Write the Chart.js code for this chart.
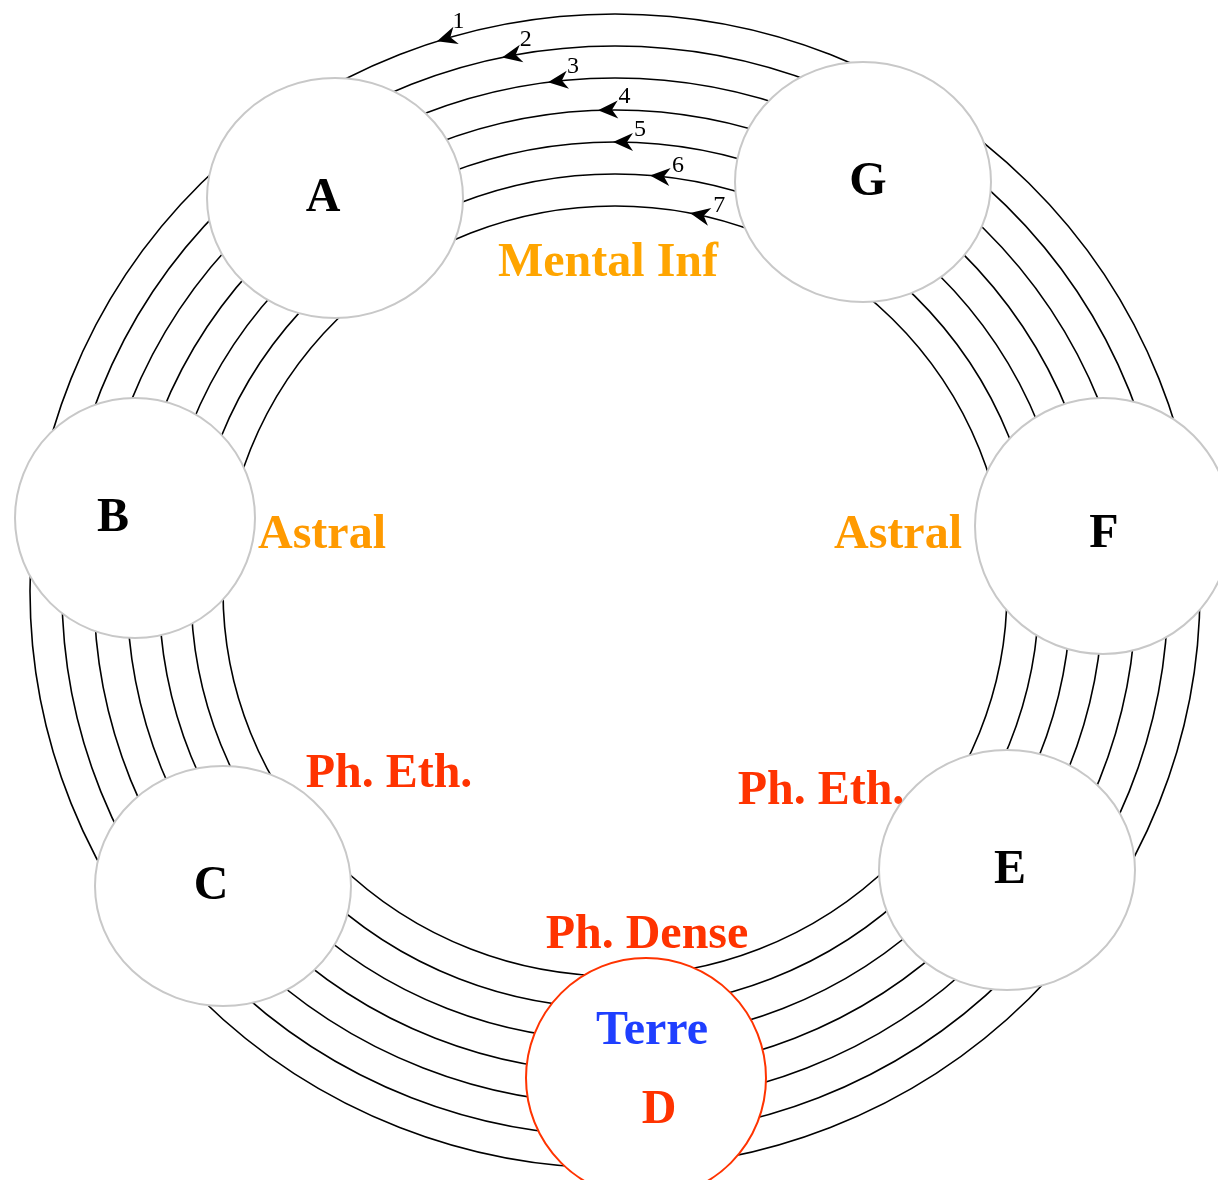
<!DOCTYPE html>
<html>
<head>
<meta charset="utf-8">
<script src="https://cdn.jsdelivr.net/npm/chart.js@4"></script>
<style>
  body { margin: 0; background: #fff; }
  #wrap { width: 1218px; height: 1180px; }
</style>
</head>
<body>
<div id="wrap"><canvas id="myChart" width="1218" height="1180"></canvas></div>
<script>
// anneaux (centre commun + rayons)
const ringCx = 615;
const ringCy = 591;
const ringRx = [585, 553, 521, 488, 456, 424, 392];
const ringRy = [577, 545, 513, 481, 449, 417, 385];

// fleches sur les anneaux (x de la pointe) + numeros
const arrowTipX = [437, 502, 548, 598, 613, 650, 690];
const arrowNums = ["1", "2", "3", "4", "5", "6", "7"];

// noeuds
const nodeNames = ["A", "B", "C", "D", "E", "F", "G"];
const nodeX = [335, 135, 223, 646, 1007, 1103, 863];
const nodeY = [198, 518, 886, 1078, 870, 526, 182];
const nodeRx = [128, 120, 128, 120, 128, 128, 128];
const nodeRy = [120, 120, 120, 120, 120, 128, 120];
const nodeLabelX = [323, 113, 211, 659, 1010, 1104, 868];
const nodeLabelY = [195, 515, 883, 1107, 867, 531, 179];

// plans
const zoneLabels = ["Mental Inf", "Astral", "Astral", "Ph. Eth.", "Ph. Eth.", "Ph. Dense", "Terre"];
const zoneX = [608, 322, 898, 389, 821, 647, 652];
const zoneY = [260, 532, 532, 771, 788, 932, 1028];
const zoneKind = ["mental", "astral", "astral", "eth", "eth", "eth", "terre"];

const couleurs = { mental: "#ffa500", astral: "#ff9a00", eth: "#ff3300", terre: "#1f3fff" };
const serif = '"Liberation Serif", "Times New Roman", serif';

function ellipsePx(chart, cx, cy, rx, ry) {
  const xs = chart.scales.x, ys = chart.scales.y;
  const px = xs.getPixelForValue(cx), py = ys.getPixelForValue(cy);
  return {
    x: px, y: py,
    rx: Math.abs(xs.getPixelForValue(cx + rx) - px),
    ry: Math.abs(ys.getPixelForValue(cy + ry) - py)
  };
}

const diagramme = {
  id: "diagramme",
  beforeDatasetsDraw(chart) {
    const ctx = chart.ctx;
    const xs = chart.scales.x;
    ctx.save();
    // anneaux
    ctx.strokeStyle = "#000";
    ctx.lineWidth = 1.6;
    ringRx.forEach((rx, i) => {
      const e = ellipsePx(chart, ringCx, ringCy, rx, ringRy[i]);
      ctx.beginPath();
      ctx.ellipse(e.x, e.y, e.rx, e.ry, 0, 0, Math.PI * 2);
      ctx.stroke();
    });
    // fleches
    arrowTipX.forEach((tx, i) => {
      const e = ellipsePx(chart, ringCx, ringCy, ringRx[i], ringRy[i]);
      const px = xs.getPixelForValue(tx);
      const t = Math.acos((px - e.x) / e.rx);
      const tipX = px, tipY = e.y - e.ry * Math.sin(t);
      let dx = -e.rx * Math.sin(t), dy = -e.ry * Math.cos(t);
      const n = Math.hypot(dx, dy);
      dx /= n; dy /= n;
      const ang = Math.atan2(dy, dx);
      ctx.save();
      ctx.translate(tipX, tipY);
      ctx.rotate(ang);
      ctx.fillStyle = "#000";
      ctx.beginPath();
      ctx.moveTo(0, 0);
      ctx.lineTo(-20, -9);
      ctx.lineTo(-14, 0);
      ctx.lineTo(-20, 9);
      ctx.closePath();
      ctx.fill();
      ctx.restore();
      // numero : un peu en arriere sur l'anneau et vers l'exterieur
      const nx = -dy, ny = dx;
      const lx = tipX - dx * 27 + nx * 14;
      const ly = tipY - dy * 27 + ny * 14;
      ctx.fillStyle = "#000";
      ctx.font = "24px " + serif;
      ctx.textAlign = "center";
      ctx.textBaseline = "alphabetic";
      ctx.fillText(arrowNums[i], lx, ly + 8);
    });
    ctx.restore();
  },
  afterDatasetsDraw(chart) {
    const ctx = chart.ctx;
    const meta = chart.getDatasetMeta(0);
    ctx.save();
    meta.data.forEach((pt, i) => {
      const e = ellipsePx(chart, nodeX[i], nodeY[i], nodeRx[i], nodeRy[i]);
      ctx.beginPath();
      ctx.ellipse(pt.x, pt.y, e.rx, e.ry, 0, 0, Math.PI * 2);
      ctx.fillStyle = "#fff";
      ctx.fill();
      ctx.lineWidth = 2;
      ctx.strokeStyle = nodeNames[i] === "D" ? "#ff3300" : "#c8c8c8";
      ctx.stroke();
    });
    ctx.textAlign = "center";
    ctx.textBaseline = "alphabetic";
    ctx.font = "bold 48px " + serif;
    const xs = chart.scales.x, ys = chart.scales.y;
    nodeNames.forEach((nm, i) => {
      ctx.fillStyle = nm === "D" ? "#ff3300" : "#000";
      ctx.fillText(nm, xs.getPixelForValue(nodeLabelX[i]), ys.getPixelForValue(nodeLabelY[i]) + 16);
    });
    zoneLabels.forEach((txt, i) => {
      ctx.fillStyle = couleurs[zoneKind[i]];
      ctx.fillText(txt, xs.getPixelForValue(zoneX[i]), ys.getPixelForValue(zoneY[i]) + 16);
    });
    ctx.restore();
  }
};

const chartDOM = document.getElementById("myChart");
const myChart = new Chart(chartDOM, {
  type: "scatter",
  data: {
    datasets: [{
      label: "noeuds",
      data: nodeX.map((x, i) => ({ x: x, y: nodeY[i] })),
      pointRadius: 0,
      pointHoverRadius: 0
    }]
  },
  options: {
    responsive: false,
    animation: false,
    layout: { padding: 0 },
    plugins: { legend: { display: false }, tooltip: { enabled: false } },
    scales: {
      x: { type: "linear", min: 0, max: 1218, display: false },
      y: { type: "linear", min: 0, max: 1180, reverse: true, display: false }
    }
  },
  plugins: [diagramme]
});
</script>
</body>
</html>
